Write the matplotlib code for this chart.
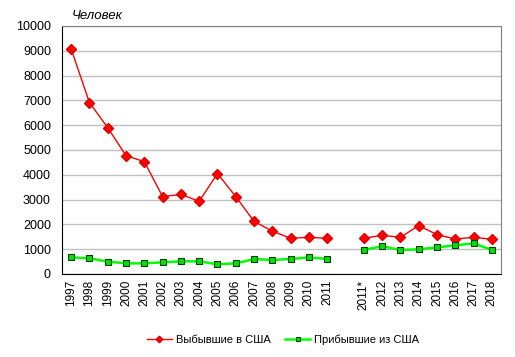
import matplotlib
matplotlib.use("Agg")

import matplotlib.pyplot as plt
import numpy as np

plt.rcParams['font.family'] = ['Liberation Sans', 'DejaVu Sans']

years = ["1997", "1998", "1999", "2000", "2001", "2002", "2003", "2004",
         "2005", "2006", "2007", "2008", "2009", "2010", "2011", "",
         "2011*", "2012", "2013", "2014", "2015", "2016", "2017", "2018"]

# выбывшие в США
left_usa = [9080, 6910, 5900, 4770, 4530, 3120, 3210, 2930,
            4050, 3120, 2120, 1730, 1440, 1480, 1440, np.nan,
            1440, 1560, 1480, 1950, 1590, 1410, 1480, 1400]

# прибывшие из США
came_usa = [670, 630, 500, 430, 430, 470, 510, 510,
            390, 430, 600, 565, 605, 670, 605, np.nan,
            970, 1115, 970, 995, 1075, 1155, 1235, 970]

x = np.arange(len(years))

fig = plt.figure(figsize=(5.15, 3.57), dpi=100)
ax = fig.add_axes([0.1204, 0.2325, 0.8524, 0.6947])

ax.plot(x, left_usa, color="#ff0000", lw=1, marker="D", markersize=5.5,
        markerfacecolor="#ff0000", markeredgecolor="#e00000",
        label="Выбывшие в США")
ax.plot(x, came_usa, color="#00ff00", lw=1.8, marker="s", markersize=5,
        markerfacecolor="#00e000", markeredgecolor="#004000", markeredgewidth=0.8,
        label="Прибывшие из США")

ax.set_xlim(-0.5, len(years) - 0.5)
ax.set_ylim(0, 10000)
ax.set_yticks(range(0, 10001, 1000))
ax.set_xticks(x)
ax.set_xticklabels(years, rotation=90, fontsize=8.5)
ax.tick_params(axis="y", labelsize=9, length=0, pad=8)
ax.tick_params(axis="x", length=0, pad=4)

ax.grid(axis="y", color="#c0c0c0", lw=1)
ax.set_axisbelow(True)
for s in ["top", "right"]:
    ax.spines[s].set_color("#808080")
for s in ["left", "bottom"]:
    ax.spines[s].set_color("black")

fig.text(0.14, 0.947, "Человек", fontsize=9.5, style="italic")

fig.legend(loc="center", bbox_to_anchor=(0.55, 0.048), ncol=2, frameon=False,
           fontsize=8, handlelength=2.2, handletextpad=0.4, columnspacing=1.3,
           markerscale=0.6)

fig.savefig("out.png", dpi=100)
